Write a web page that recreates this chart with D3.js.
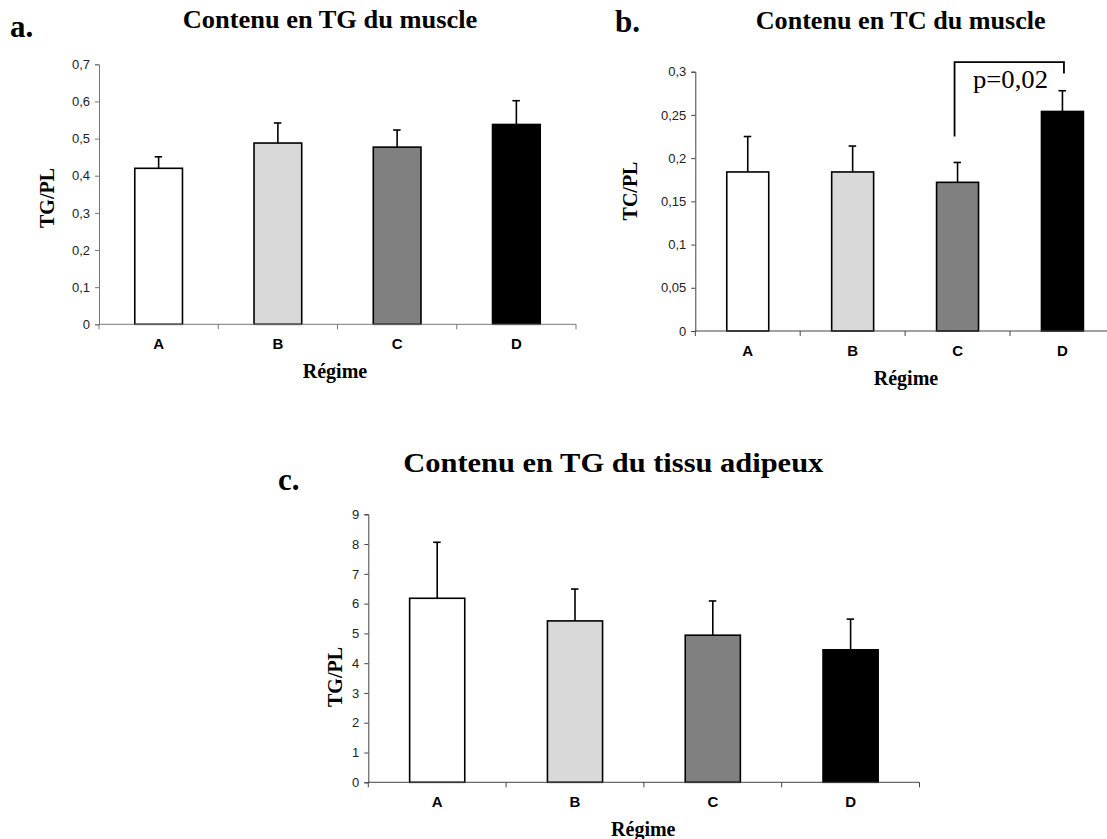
<!DOCTYPE html>
<html>
<head>
<meta charset="utf-8">
<script src="https://cdn.jsdelivr.net/npm/d3@7"></script>
<style>
body{margin:0;background:#fff}
svg{display:block}
</style>
</head>
<body>
<svg id="main" width="1107" height="839"></svg>
<script>
// data
const categories = ["A","B","C","D"]
const barColors = ["#ffffff","#d9d9d9","#808080","#000000"]

const tgMuscle = [0.42, 0.488, 0.477, 0.538]
const tgMuscleErr = [0.031, 0.054, 0.046, 0.064]
const tgMuscleTicks = [0, 0.1, 0.2, 0.3, 0.4, 0.5, 0.6, 0.7]

const tcMuscle = [0.184, 0.184, 0.172, 0.254]
const tcMuscleErr = [0.041, 0.030, 0.023, 0.024]
const tcMuscleTicks = [0, 0.05, 0.1, 0.15, 0.2, 0.25, 0.3]

const tgAdipeux = [6.18, 5.42, 4.94, 4.45]
const tgAdipeuxErr = [1.88, 1.07, 1.15, 1.03]
const tgAdipeuxTicks = [0, 1, 2, 3, 4, 5, 6, 7, 8, 9]

const svg = d3.select("#main")
const comma = v => String(v).replace(".", ",")
const serif = "'Times New Roman','Liberation Serif',serif"
const sans = "Arial,'Liberation Sans',sans-serif"

function panel(o){
    let g = svg.append("g")

    let x = d3.scaleBand().domain(categories).range([o.x0, o.x1]).paddingInner(0.6).paddingOuter(0.3)
    let xa = d3.scaleBand().domain(categories).range([o.x0, o.x1])
    let y = d3.scaleLinear().domain([0, o.ticks[o.ticks.length-1]]).range([o.y0, o.y1])

    // error bars (upper only)
    let eb = g.append("g").attr("stroke","#000").attr("stroke-width",1.6)
    categories.forEach((c,i)=>{
        let cx = x(c) + x.bandwidth()/2
        let top = y(o.values[i]+o.errs[i])
        eb.append("line").attr("x1",cx).attr("x2",cx).attr("y1",y(o.values[i])).attr("y2",top)
        eb.append("line").attr("x1",cx-4).attr("x2",cx+3.5).attr("y1",top).attr("y2",top)
    })

    g.append("g").selectAll("rect").data(categories).join("rect")
    .attr("x",d=>x(d))
    .attr("y",(d,i)=>y(o.values[i]))
    .attr("width",x.bandwidth())
    .attr("height",(d,i)=>y(0)-y(o.values[i]))
    .attr("fill",(d,i)=>barColors[i])
    .attr("stroke","#000")
    .attr("stroke-width",1.6)

    // y axis
    let ya = g.append("g").attr("transform",`translate(${o.x0},0)`)
    .call(d3.axisLeft(y).tickValues(o.ticks).tickFormat(comma).tickSize(4).tickPadding(5))
    ya.selectAll("text").style("font-size","13px").style("font-family",sans).style("fill","#222")
    ya.selectAll("line,path").attr("stroke",o.axisColor)

    // x axis: ticks between categories
    let xg = g.append("g").attr("transform",`translate(0,${o.y0})`)
    xg.append("line").attr("x1",o.x0).attr("x2",o.x1).attr("stroke",o.axisColor)
    xg.selectAll("line.tk").data(categories).join("line").attr("class","tk")
    .attr("x1",d=>xa(d)).attr("x2",d=>xa(d)).attr("y1",0).attr("y2",5).attr("stroke",o.axisColor)
    xg.append("line").attr("x1",o.x1).attr("x2",o.x1).attr("y1",0).attr("y2",5).attr("stroke",o.axisColor)
    xg.selectAll("text").data(categories).join("text")
    .attr("x",d=>xa(d)+xa.bandwidth()/2)
    .attr("y",25)
    .attr("text-anchor","middle")
    .style("font-family",sans)
    .style("font-weight","bold")
    .style("font-size","15px")
    .text(d=>d)

    // axis titles
    g.append("text").attr("x",o.xTitleX).attr("y",o.y0+54)
    .attr("text-anchor","middle")
    .style("font-family",serif)
    .style("font-weight","bold").style("font-size","20px")
    .text("Régime")

    g.append("text").attr("transform",`translate(${o.yTitleX},${o.yTitleY}) rotate(-90)`)
    .attr("text-anchor","middle")
    .style("font-family",serif)
    .style("font-weight","bold").style("font-size","20px")
    .text(o.yTitle)

    // chart title and letter
    g.append("text").attr("x",o.titleX).attr("y",o.titleY)
    .style("font-family",serif)
    .style("font-weight","bold").style("font-size",o.titleSize+"px")
    .attr("textLength",o.titleW).attr("lengthAdjust","spacingAndGlyphs")
    .text(o.title)

    g.append("text").attr("x",o.letterX).attr("y",o.letterY)
    .style("font-family",serif)
    .style("font-weight","bold").style("font-size","31px")
    .text(o.letter)

    return {x,y}
}

panel({
    x0:99, x1:576, y0:324.3, y1:64.3,
    values:tgMuscle, errs:tgMuscleErr, ticks:tgMuscleTicks,
    axisColor:"#777",
    yTitle:"TG/PL", yTitleX:53.5, yTitleY:198,
    xTitleX:335,
    title:"Contenu en TG du muscle", titleX:182.7, titleY:28.3, titleW:294.6, titleSize:26,
    letter:"a.", letterX:10, letterY:37
})

let pb = panel({
    x0:695.3, x1:1114.9, y0:331, y1:71.7,
    values:tcMuscle, errs:tcMuscleErr, ticks:tcMuscleTicks,
    axisColor:"#444",
    yTitle:"TC/PL", yTitleX:637, yTitleY:191,
    xTitleX:906,
    title:"Contenu en TC du muscle", titleX:755.7, titleY:29.3, titleW:290, titleSize:26,
    letter:"b.", letterX:615, letterY:32
})

// significance bracket C vs D
let bx1 = pb.x("C") + pb.x.bandwidth()/2 - 3
let bx2 = pb.x("D") + pb.x.bandwidth()/2 + 1.5
svg.append("path")
.attr("d",`M${bx1},${pb.y(0.225)}V${pb.y(0.311)}H${bx2}V${pb.y(0.298)}`)
.attr("fill","none").attr("stroke","#000").attr("stroke-width",1.8)
svg.append("text").attr("x",973).attr("y",88)
.style("font-family",serif)
.style("font-size","25px")
.attr("textLength",75).attr("lengthAdjust","spacingAndGlyphs")
.text("p=0,02")

panel({
    x0:368.3, x1:919.5, y0:782.3, y1:514.3,
    values:tgAdipeux, errs:tgAdipeuxErr, ticks:tgAdipeuxTicks,
    axisColor:"#444",
    yTitle:"TG/PL", yTitleX:342, yTitleY:677,
    xTitleX:643.3,
    title:"Contenu en TG du tissu adipeux", titleX:403.3, titleY:471.7, titleW:420, titleSize:27,
    letter:"c.", letterX:278, letterY:490
})
</script>
</body>
</html>
